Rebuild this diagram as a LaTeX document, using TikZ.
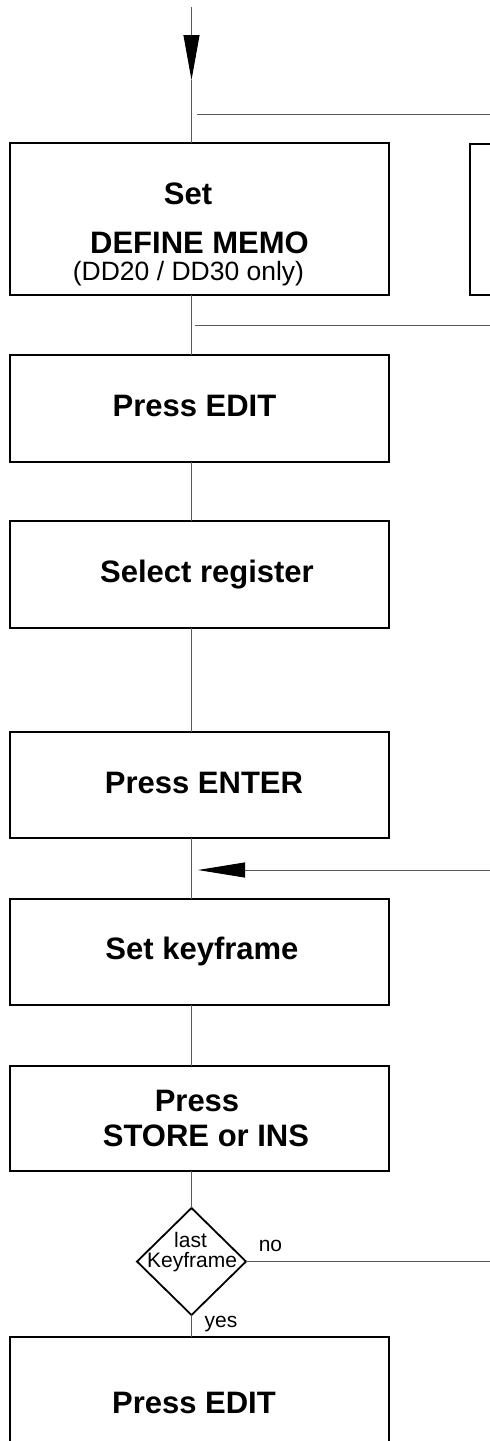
\documentclass[tikz,border=0pt]{standalone}
\usepackage{fontspec}
\setmainfont{Liberation Sans}
\usetikzlibrary{arrows.meta,shapes.geometric}

\begin{document}
\begin{tikzpicture}[x=1pt,y=-1pt,
  stepbox/.style={draw=black,line width=2pt,minimum width=379pt,inner sep=0pt,outer sep=0pt},
  decision/.style={draw=black,line width=1.8pt,diamond,minimum width=109pt,minimum height=107pt,inner sep=0pt,outer sep=0pt},
  flow/.style={draw={rgb,255:red,90;green,90;blue,90},line width=1pt},
  bigtxt/.style={anchor=base,inner sep=0pt,font=\fontsize{31}{36}\selectfont\bfseries},
  midtxt/.style={anchor=base,inner sep=0pt,font=\fontsize{26.5}{30}\selectfont},
  smalltxt/.style={anchor=base,inner sep=0pt,font=\fontsize{21}{24}\selectfont},
  headdown/.style={-{Triangle[length=45pt,width=16pt,color=black]}},
  headleft/.style={-{Triangle[length=47pt,width=15pt,color=black]}}
]
\useasboundingbox (0,0) rectangle (490,1441);
\clip (0,0) rectangle (490,1441);

% process boxes
\node[stepbox,minimum height=152pt] (b1) at (199.5,219) {};
\node[stepbox,minimum height=107pt] (b2) at (199.5,408.5) {};
\node[stepbox,minimum height=107pt] (b3) at (199.5,574.5) {};
\node[stepbox,minimum height=106pt] (b4) at (199.5,785) {};
\node[stepbox,minimum height=106pt] (b5) at (199.5,952) {};
\node[stepbox,minimum height=105pt] (b6) at (199.5,1118.5) {};
\node[stepbox,minimum height=163pt] (b7) at (199.5,1418.5) {};
\node[draw=black,line width=2pt,minimum width=90pt,minimum height=151pt,inner sep=0pt] (side) at (515,219.5) {};

% decision
\node[decision] (d) at (191.5,1261.5) {};

% box texts
\node[bigtxt] (t1a) at (188,204) {Set};
\node[bigtxt] (t1b) at (199.5,253) {DEFINE MEMO};
\node[midtxt] (t1c) at (188.5,280) {(DD20 / DD30 only)};
\node[bigtxt] (t2) at (194.5,416) {Press EDIT};
\node[bigtxt] (t3) at (207,582) {Select register};
\node[bigtxt] (t4) at (204,793) {Press ENTER};
\node[bigtxt] (t5) at (202,959) {Set keyframe};
\node[bigtxt] (t6a) at (197,1111) {Press};
\node[bigtxt] (t6b) at (206,1146) {STORE or INS};
\node[bigtxt] (t7) at (194,1413) {Press EDIT};
\node[smalltxt] (dl1) at (190.5,1247) {last};
\node[smalltxt] (dl2) at (192,1267) {Keyframe};
\node[smalltxt] (no) at (270.5,1251) {no};
\node[smalltxt] (yes) at (221,1327) {yes};

% free ends
\coordinate (start) at (191.5,7);
\coordinate (downtip) at (191.5,80);
\coordinate (r1a) at (197,114);
\coordinate (r1b) at (490,114);
\coordinate (r2a) at (195,325);
\coordinate (r2b) at (490,325);
\coordinate (backin) at (490,870);
\coordinate (backtip) at (198,870);
\coordinate (noend) at (490,1261.5);

% connectors
\draw[flow,headdown] (start) -- (downtip);
\draw[flow] (downtip) -- (b1.north -| downtip);
\draw[flow] (b1.south -| start) -- (b2.north -| start);
\draw[flow] (b2.south -| start) -- (b3.north -| start);
\draw[flow] (b3.south -| start) -- (b4.north -| start);
\draw[flow] (b4.south -| start) -- (b5.north -| start);
\draw[flow] (b5.south -| start) -- (b6.north -| start);
\draw[flow] (b6.south -| start) -- (d.north);
\draw[flow] (d.south) -- (b7.north -| d.south);
\draw[flow] (d.east) -- (noend);
\draw[flow] (r1a) -- (r1b);
\draw[flow] (r2a) -- (r2b);
\draw[flow,headleft] (backin) -- (backtip);
\end{tikzpicture}
\end{document}
